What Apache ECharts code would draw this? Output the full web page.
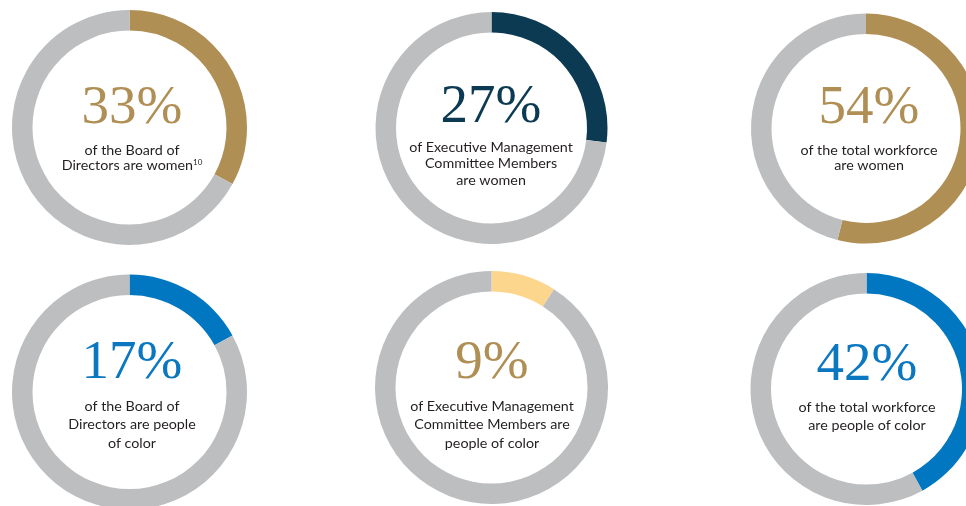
<!DOCTYPE html>
<html>
<head>
<meta charset="utf-8">
<script src="https://cdn.jsdelivr.net/npm/echarts@6/dist/echarts.min.js"></script>
<style>
html,body{margin:0;padding:0;background:#fff;}
#chart{width:966px;height:506px;}
</style>
</head>
<body>
<div id="chart"></div>
<script>
// ---- data ----
const percents = [33, 27, 54, 17, 9, 42];
const numberLabels = ['33%', '27%', '54%', '17%', '9%', '42%'];
const descriptions = [
  'of the Board of\nDirectors are women{sup|10}',
  'of Executive Management\nCommittee Members\nare women',
  'of the total workforce\nare women',
  'of the Board of\nDirectors are people\nof color',
  'of Executive Management\nCommittee Members are\npeople of color',
  'of the total workforce\nare people of color'
];
const accentColors = ['#B08F55', '#0B3A52', '#B08F55', '#0077C0', '#FDD68E', '#0077C0'];
const numberColors = ['#B08F55', '#0B3A52', '#B08F55', '#0A77C0', '#B08F55', '#0A77C0'];
const restColor = '#BDBEC0';

// ---- layout ----
const centers = [[129.5, 127.5], [491.5, 128], [866, 128.5], [129.5, 392], [491.5, 387.5], [866.5, 389]];
const outerR = [117.5, 116, 115, 117.5, 116.5, 116];
const ringW = 20.5;
const textX = [132, 491, 869, 132, 492, 867];
const numY = [109, 107.5, 109, 363.5, 364, 366];
const descY = [150, 147, 150, 406, 406, 407];
const lineH = [15, 16.5, 15, 18.5, 18.5, 18];

const chart = echarts.init(document.getElementById('chart'), null, {renderer: 'canvas'});

const series = percents.map((p, i) => ({
  type: 'pie',
  center: centers[i],
  radius: [outerR[i] - ringW, outerR[i]],
  startAngle: 90,
  clockwise: true,
  silent: true,
  label: {show: false},
  labelLine: {show: false},
  itemStyle: {borderWidth: 0},
  emphasis: {disabled: true},
  data: [
    {value: p, itemStyle: {color: accentColors[i]}},
    {value: 100 - p, itemStyle: {color: restColor}}
  ]
}));

const graphics = [];
percents.forEach((p, i) => {
  graphics.push({
    type: 'text',
    silent: true,
    style: {
      text: numberLabels[i],
      x: textX[i],
      y: numY[i],
      textAlign: 'center',
      textVerticalAlign: 'middle',
      fill: numberColors[i],
      font: '55px "Liberation Serif", serif'
    }
  });
  const lines = descriptions[i].split('\n');
  lines.forEach((ln, k) => {
    graphics.push({
      type: 'text',
      silent: true,
      style: {
        text: ln,
        x: textX[i],
        y: descY[i] + k * lineH[i],
        textAlign: 'center',
        textVerticalAlign: 'middle',
        fill: '#231F20',
        font: '14.3px Lato, sans-serif',
        rich: {
          sup: {fontSize: 8, fontFamily: 'Lato', fill: '#231F20', padding: [0, 0, 6, 0], verticalAlign: 'top'}
        }
      }
    });
  });
});

chart.setOption({
  animation: false,
  backgroundColor: '#ffffff',
  series: series,
  graphic: graphics
});
</script>
</body>
</html>
